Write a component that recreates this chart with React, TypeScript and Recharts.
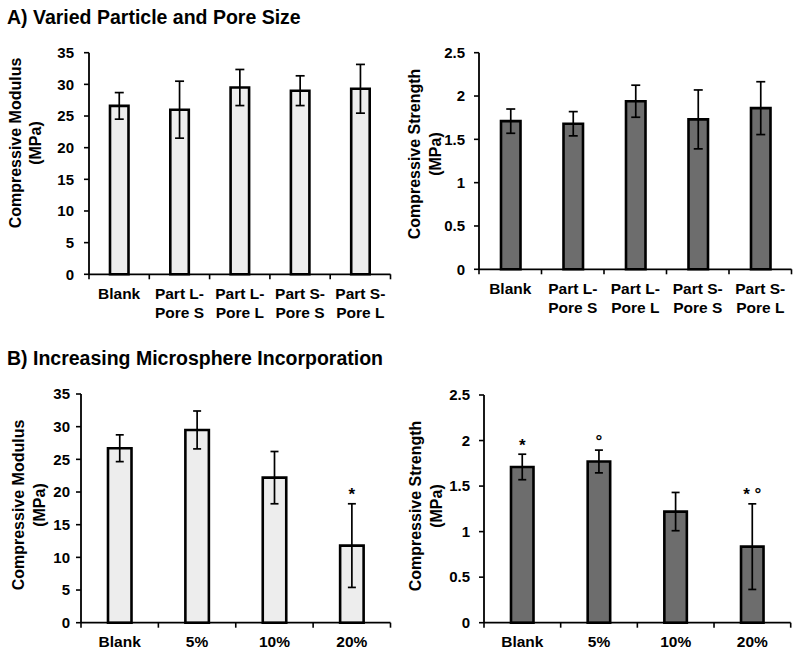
import React from 'react';
import { BarChart, Bar, XAxis, YAxis, ErrorBar, LabelList } from 'recharts';

const FONT = '"Liberation Sans", Arial, Helvetica, sans-serif';

// ---- Data ----
const sizeCategories = ['Blank', 'Part L-\nPore S', 'Part L-\nPore L', 'Part S-\nPore S', 'Part S-\nPore L'];
const sizeModulus = [26.6, 26.0, 29.5, 29.0, 29.3];
const sizeModulusErr = [2.1, 4.5, 2.85, 2.35, 3.85];
const sizeModulusMarks = ['', '', '', '', ''];
const sizeStrength = [1.71, 1.68, 1.94, 1.73, 1.86];
const sizeStrengthErr = [0.14, 0.14, 0.185, 0.34, 0.305];
const sizeStrengthMarks = ['', '', '', '', ''];

const loadCategories = ['Blank', '5%', '10%', '20%'];
const loadModulus = [26.7, 29.5, 22.2, 11.8];
const loadModulusErr = [2.05, 2.9, 4.0, 6.4];
const loadModulusMarks = ['', '', '', '*'];
const loadStrength = [1.71, 1.77, 1.22, 0.835];
const loadStrengthErr = [0.14, 0.125, 0.21, 0.47];
const loadStrengthMarks = ['*', '°', '', '* °'];

const modulusTicks = [0, 5, 10, 15, 20, 25, 30, 35];
const strengthTicks = [0, 0.5, 1, 1.5, 2, 2.5];

const titleA = 'A) Varied Particle and Pore Size';
const titleB = 'B) Increasing Microsphere Incorporation';
const modulusLabel = ['Compressive Modulus', '(MPa)'];
const strengthLabel = ['Compressive Strength', '(MPa)'];

const LIGHT = '#ededed';
const DARK = '#6d6d6d';

const build = (cats: string[], vals: number[], errs: number[], marks: string[]) =>
  cats.map((c, i) => ({ cat: c, value: vals[i], err: errs[i], mark: marks[i] }));

type PanelProps = {
  data: any[];
  ticks: number[];
  fill: string;
  box: { left: number; top: number; width: number; height: number };
  plot: { x0: number; x1: number; y0: number; y1: number };
  barSize: number;
  tickMargin: number;
  cap: number;
};

const Panel = ({ data, ticks, fill, box, plot, barSize, tickMargin, cap }: PanelProps) => {
  const yw = 60;
  const xh = 30;
  const margin = {
    left: plot.x0 - box.left - yw,
    right: box.left + box.width - plot.x1,
    top: plot.y0 - box.top,
    bottom: box.top + box.height - plot.y1 - xh,
  };
  const half = (plot.x1 - plot.x0) / data.length / 2;
  const n = data.length;

  const XTick = (props: any) => {
    const { x, y, payload, index } = props;
    const lines = String(payload.value).split('\n');
    return (
      <g>
        <line x1={x - half} x2={x - half} y1={y} y2={y + 5} stroke="#000" strokeWidth={1.6} />
        {index === n - 1 && (
          <line x1={x + half} x2={x + half} y1={y} y2={y + 5} stroke="#000" strokeWidth={1.6} />
        )}
        <text
          x={x}
          y={y + 24.5}
          textAnchor="middle"
          fontFamily={FONT}
          fontWeight="bold"
          fontSize={15.5}
          fill="#000"
        >
          {lines.map((l, i) => (
            <tspan key={i} x={x} dy={i === 0 ? 0 : 18.7}>
              {l}
            </tspan>
          ))}
        </text>
      </g>
    );
  };

  const renderMark = (props: any) => {
    const { x, y, width, height, index } = props;
    const d = data[index];
    if (!d || !d.mark) return null;
    const ppu = height / d.value;
    const errTop = y - d.err * ppu;
    return (
      <text
        x={x + width / 2}
        y={errTop - 3.5}
        textAnchor="middle"
        fontFamily={FONT}
        fontWeight="bold"
        fontSize={17}
        fill="#000"
      >
        {d.mark}
      </text>
    );
  };

  return (
    <div style={{ position: 'absolute', left: box.left, top: box.top }}>
      <BarChart width={box.width} height={box.height} data={data} margin={margin}>
        <XAxis
          dataKey="cat"
          height={xh}
          tickLine={false}
          tickSize={0}
          tickMargin={0}
          axisLine={{ stroke: '#000', strokeWidth: 1.8 }}
          tick={<XTick />}
          interval={0}
        />
        <YAxis
          width={yw}
          domain={[ticks[0], ticks[ticks.length - 1]]}
          ticks={ticks}
          interval={0}
          tickSize={5}
          tickMargin={tickMargin}
          axisLine={{ stroke: '#000', strokeWidth: 1.8 }}
          tickLine={{ stroke: '#000', strokeWidth: 1.6 }}
          tick={{ fill: '#000', fontFamily: FONT, fontWeight: 'bold', fontSize: 15 }}
        />
        <Bar dataKey="value" fill={fill} stroke="#000" strokeWidth={2.6} barSize={barSize} isAnimationActive={false}>
          <ErrorBar dataKey="err" width={cap} stroke="#000" strokeWidth={1.7} direction="y" isAnimationActive={false} />
          <LabelList dataKey="mark" content={renderMark} />
        </Bar>
      </BarChart>
    </div>
  );
};

const YLabel = ({ cx, cy, x2, lines }: { cx: number; cy: number; x2: number; lines: string[] }) => (
  <g>
    {lines.map((l, i) => {
      const x = i === 0 ? cx : x2;
      return (
        <text
          key={i}
          x={x}
          y={cy}
          transform={`rotate(-90, ${x}, ${cy})`}
          textAnchor="middle"
          dominantBaseline="central"
          fontFamily={FONT}
          fontWeight="bold"
          fontSize={16}
          fill="#000"
        >
          {l}
        </text>
      );
    })}
  </g>
);

export default function App() {
  const aMod = build(sizeCategories, sizeModulus, sizeModulusErr, sizeModulusMarks);
  const aStr = build(sizeCategories, sizeStrength, sizeStrengthErr, sizeStrengthMarks);
  const bMod = build(loadCategories, loadModulus, loadModulusErr, loadModulusMarks);
  const bStr = build(loadCategories, loadStrength, loadStrengthErr, loadStrengthMarks);

  return (
    <div style={{ position: 'absolute', left: 0, top: 0, width: 800, height: 655, background: '#fff', overflow: 'hidden' }}>
      <Panel
        data={aMod}
        ticks={modulusTicks}
        fill={LIGHT}
        box={{ left: 0, top: 30, width: 400, height: 300 }}
        plot={{ x0: 89, x1: 390.5, y0: 52.7, y1: 274.3 }}
        barSize={18.5}
        tickMargin={10}
        cap={4.5}
      />
      <Panel
        data={aStr}
        ticks={strengthTicks}
        fill={DARK}
        box={{ left: 400, top: 30, width: 400, height: 300 }}
        plot={{ x0: 479, x1: 791.5, y0: 52.7, y1: 269.3 }}
        barSize={19.5}
        tickMargin={9}
        cap={4.5}
      />
      <Panel
        data={bMod}
        ticks={modulusTicks}
        fill={LIGHT}
        box={{ left: 0, top: 375, width: 400, height: 280 }}
        plot={{ x0: 81, x1: 390.5, y0: 394, y1: 622.7 }}
        barSize={23.5}
        tickMargin={6}
        cap={4}
      />
      <Panel
        data={bStr}
        ticks={strengthTicks}
        fill={DARK}
        box={{ left: 400, top: 375, width: 400, height: 280 }}
        plot={{ x0: 484, x1: 790.7, y0: 395, y1: 622.7 }}
        barSize={22.5}
        tickMargin={9}
        cap={4}
      />
      <svg
        width={800}
        height={655}
        style={{ position: 'absolute', left: 0, top: 0, pointerEvents: 'none' }}
      >
        <text x={7} y={24} fontFamily={FONT} fontWeight="bold" fontSize={19.5} fill="#000">
          {titleA}
        </text>
        <text x={7} y={365} fontFamily={FONT} fontWeight="bold" fontSize={19.5} fill="#000">
          {titleB}
        </text>
        <YLabel cx={15} x2={35.5} cy={143} lines={modulusLabel} />
        <YLabel cx={414} x2={435.5} cy={154} lines={strengthLabel} />
        <YLabel cx={18} x2={39} cy={505} lines={modulusLabel} />
        <YLabel cx={415} x2={436.5} cy={506} lines={strengthLabel} />
      </svg>
    </div>
  );
}
